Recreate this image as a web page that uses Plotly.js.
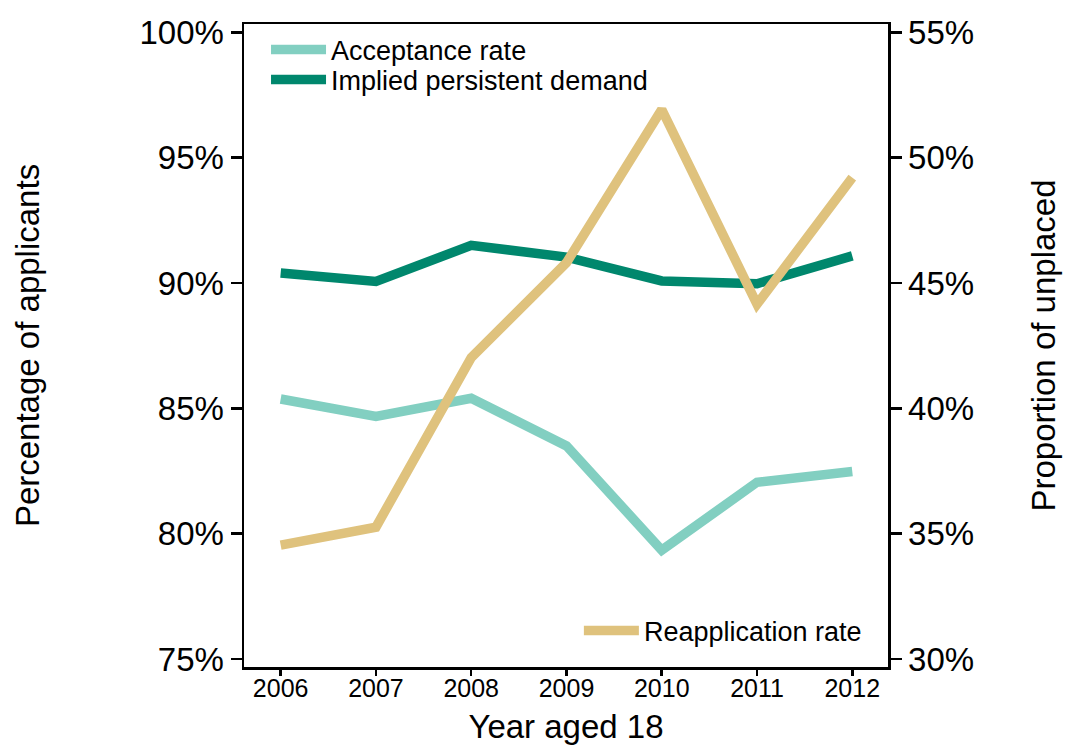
<!DOCTYPE html>
<html>
<head>
<meta charset="utf-8">
<script src="https://cdn.plot.ly/plotly-3.0.1.min.js"></script>
<style>html,body{margin:0;padding:0;background:#fff;}#chart{width:1068px;height:751px;}</style>
</head>
<body>
<div id="chart"></div>
<script>
const years = [2006, 2007, 2008, 2009, 2010, 2011, 2012];
const acceptanceRate = [85.37, 84.68, 85.40, 83.50, 79.34, 82.05, 82.48];
const impliedPersistentDemand = [90.40, 90.06, 91.50, 91.03, 90.08, 89.97, 91.08];
const reapplicationRate = [34.54, 35.26, 42.02, 45.81, 51.92, 44.15, 49.20];
const leftTicks = [75, 80, 85, 90, 95, 100];
const rightTicks = [30, 35, 40, 45, 50, 55];

const FONT = 'Liberation Sans, Arial, sans-serif';

const traces = [
  {x: years, y: acceptanceRate, type: 'scatter', mode: 'lines', name: 'Acceptance rate',
   line: {color: '#82CFC1', width: 9.5}, yaxis: 'y', legend: 'legend'},
  {x: years, y: impliedPersistentDemand, type: 'scatter', mode: 'lines', name: 'Implied persistent demand',
   line: {color: '#00876D', width: 9.5}, yaxis: 'y', legend: 'legend3'},
  {x: years, y: reapplicationRate, type: 'scatter', mode: 'lines', name: 'Reapplication rate',
   line: {color: '#DFC27D', width: 9.5}, yaxis: 'y2', legend: 'legend2'}
];

const legendCommon = {
  bgcolor: 'rgba(0,0,0,0)', borderwidth: 0,
  font: {size: 27, family: FONT}, itemwidth: 55,
  xanchor: 'left', yanchor: 'middle'
};

const layout = {
  width: 1068, height: 751,
  margin: {l: 244, r: 180, t: 24, b: 84},
  paper_bgcolor: '#fff', plot_bgcolor: '#fff',
  font: {family: FONT, color: '#000'},
  showlegend: true,
  xaxis: {
    range: [2005.615, 2012.375], tickvals: years, ticktext: years.map(String),
    showline: true, linecolor: '#000', linewidth: 2.5, mirror: true,
    ticks: 'outside', ticklen: 6, tickwidth: 2.5, tickcolor: '#000',
    showgrid: false, zeroline: false, ticklabelstandoff: -9,
    tickfont: {size: 25, family: FONT},
    title: {text: 'Year aged 18', font: {size: 33, family: FONT}, standoff: 15}
  },
  yaxis: {
    range: [74.68, 100.33], tickvals: leftTicks, ticktext: leftTicks.map(v => v + '%'),
    showline: true, linecolor: '#000', linewidth: 2.5,
    ticks: 'outside', ticklen: 11, tickwidth: 2.5, tickcolor: '#000',
    showgrid: false, zeroline: false,
    tickfont: {size: 33, family: FONT},
    title: {text: 'Percentage of applicants', font: {size: 33, family: FONT}, standoff: 90}
  },
  yaxis2: {
    overlaying: 'y', side: 'right',
    range: [29.68, 55.33], tickvals: rightTicks, ticktext: rightTicks.map(v => v + '%'),
    showline: true, linecolor: '#000', linewidth: 2.5,
    ticks: 'outside', ticklen: 11, tickwidth: 2.5, tickcolor: '#000',
    showgrid: false, zeroline: false,
    tickfont: {size: 33, family: FONT},
    title: {text: 'Proportion of unplaced', font: {size: 33, family: FONT}, standoff: 59}
  },
  legend: Object.assign({}, legendCommon, {x: 0.0342, y: 0.9596}),
  legend3: Object.assign({}, legendCommon, {x: 0.0342, y: 0.9129}),
  legend2: Object.assign({}, legendCommon, {x: 0.520, y: 0.056})
};

Plotly.newPlot('chart', traces, layout, {displayModeBar: false, staticPlot: true});
</script>
</body>
</html>
